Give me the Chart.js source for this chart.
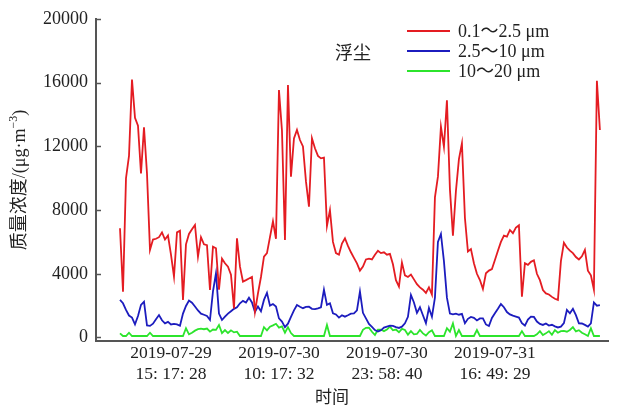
<!DOCTYPE html>
<html>
<head>
<meta charset="utf-8">
<script src="https://cdn.jsdelivr.net/npm/chart.js@4.4.0/dist/chart.umd.min.js"></script>
<style>
  html, body { margin: 0; padding: 0; background: #fff; }
  #wrap { width: 619px; height: 406px; }
</style>
</head>
<body>
<div id="wrap"><canvas id="dustChart" width="619" height="406"></canvas></div>
<script>
// mass concentration, µg/m3, one value per sample
const redValues = [
  6860, 2880, 10000, 11400, 16200, 13800, 13300, 10300, 13200, 10300,
  5500, 6150, 6200, 6300, 6600, 6150, 6400, 5200, 3820, 6600,
  6700, 2360, 5850, 6500, 6800, 7070, 5080, 6300, 5850, 5800,
  2980, 5700, 5600, 3000, 4950, 4660, 4450, 3950, 1830, 6230,
  4450, 3510, 3600, 3700, 3800, 1620, 2770, 3800, 5080, 5300,
  6300, 7300, 6200, 15540, 13000, 6120, 15860, 10100, 12500, 13030,
  12400, 12000, 9800, 8210, 12510, 11880, 11400, 11250, 11300, 7000,
  8000, 6000, 5300, 5200, 5900, 6230, 5750, 5350, 5000, 4660,
  4200, 4450, 4900, 4950, 4900, 5200, 5450, 5300, 5350, 5200,
  5250, 4600, 3600, 3200, 4700, 3900, 3800, 3950, 3650, 3350,
  3150, 3000, 2800, 3150, 2700, 8800, 10100, 13240, 11980, 14900,
  9300, 6400, 9200, 11200, 12190, 7500, 5400, 5550, 4660, 4000,
  3610, 3050, 4030, 4200, 4300, 4870, 5450, 6000, 6400, 6330,
  6750, 6550, 6900, 7050, 2560, 4660, 4560, 4750, 4850, 4000,
  3600, 2980, 2770, 2700, 2550, 2430, 2360, 4800, 5950, 5650,
  5450, 5300, 5050, 4900, 5100, 5500, 4200, 3900, 3000, 16120,
  13030
];
const blueValues = [
  2360, 2150, 1730, 1380, 1250, 830, 1350, 2050, 2250, 760,
  730, 870, 1150, 1410, 1080, 890, 980, 820, 860, 820,
  740, 1500, 1980, 2320, 2180, 1950, 1700, 1500, 1430, 1350,
  1100, 2900, 4030, 1500, 1100, 1310, 1500, 1650, 1800, 1900,
  2150, 2300, 2200, 2500, 2200, 1600, 1950, 1650, 2360, 2800,
  2000, 2100, 1950, 1200, 1000, 650, 870, 1300, 1700, 2040,
  1930, 1840, 1920, 1930, 1800, 1780, 1830, 1900, 3000, 2050,
  2150, 1520, 1450, 1250, 1400, 1310, 1400, 1500, 1520, 1700,
  2880, 1550, 1200, 850, 670, 470, 380, 450, 620, 680,
  740, 730, 650, 600, 680, 890, 1300, 2670, 2200, 1550,
  1900, 1400, 900, 1850, 1300, 2500, 6000, 6500, 4800, 2500,
  1500, 1450, 1500, 1430, 1480, 890, 1170, 1290, 1230, 1070,
  1200, 1200, 820, 720, 1230, 1520, 1800, 2100, 1900, 1600,
  1450, 1370, 1310, 1250, 900, 750, 1130, 1310, 1290, 1000,
  850, 790, 880, 750, 800, 700, 630, 680, 900, 1730,
  1520, 1800, 1400, 890, 880, 790, 690, 890, 2200, 2000,
  2040
];
const greenValues = [
  260, 94, 94, 300, 94, 94, 94, 94, 94, 94,
  300, 94, 94, 94, 94, 94, 94, 94, 94, 94,
  94, 94, 580, 200, 300, 430, 520, 560, 520, 560,
  365, 500, 480, 785, 280, 470, 280, 450, 320, 365,
  94, 94, 94, 94, 94, 94, 94, 94, 650, 450,
  680, 760, 860, 620, 700, 300, 650, 280, 94, 94,
  94, 94, 94, 94, 94, 94, 94, 94, 94, 785,
  94, 94, 94, 94, 94, 94, 94, 94, 94, 94,
  94, 480, 610, 620, 360, 157, 500, 500, 400, 500,
  680, 450, 500, 330, 540, 470, 180, 400, 200, 220,
  470, 260, 120, 330, 450, 94, 94, 94, 94, 580,
  365, 890, 94, 470, 94, 94, 94, 94, 94, 470,
  94, 94, 94, 94, 94, 94, 94, 94, 94, 94,
  94, 94, 94, 94, 400, 94, 94, 94, 94, 200,
  400, 157, 260, 400, 170, 470, 300, 400, 420, 365,
  470, 650, 380, 460, 300, 200, 94, 580, 94, 94,
  94
];

const seriesNames = ["0.1～2.5 μm", "2.5～10 μm", "10～20 μm"];
const seriesColors = ["rgb(228,28,34)", "rgb(28,28,190)", "rgb(44,228,44)"];

// sample index where each time label sits
const tickIndex = [17, 53, 89, 125];
const tickLabels = [
  ["2019-07-29", "15: 17: 28"],
  ["2019-07-30", "10: 17: 32"],
  ["2019-07-30", "23: 58: 40"],
  ["2019-07-31", "16: 49: 29"]
];
const yTicks = [0, 4000, 8000, 12000, 16000, 20000];

const serif = '"Liberation Serif", "Noto Sans CJK SC", serif';
const axisColor = "#555";

const toPoints = arr => arr.map((v, i) => ({ x: i, y: v }));

const overlay = {
  id: "overlay",
  afterDraw(chart) {
    const ctx = chart.ctx;
    const area = chart.chartArea;
    const ys = chart.scales.y;
    ctx.save();

    // inward tick marks on the y axis
    ctx.strokeStyle = axisColor;
    ctx.lineWidth = 1.5;
    yTicks.forEach(v => {
      const y = Math.round(ys.getPixelForValue(v)) + 0.5;
      ctx.beginPath();
      ctx.moveTo(area.left, y);
      ctx.lineTo(area.left + 5, y);
      ctx.stroke();
    });

    // legend
    ctx.font = "18px " + serif;
    ctx.textBaseline = "middle";
    ctx.fillStyle = "#222";
    seriesNames.forEach((name, i) => {
      const y = 31 + i * 20;
      ctx.strokeStyle = seriesColors[i];
      ctx.lineWidth = 1.8;
      ctx.beginPath();
      ctx.moveTo(407, y);
      ctx.lineTo(450, y);
      ctx.stroke();
      ctx.fillText(name, 458, y + 1);
    });
    ctx.font = '18px "Noto Sans CJK SC"';
    ctx.fillText("浮尘", 335, 52);

    // x title
    ctx.font = '17px "Noto Sans CJK SC"';
    ctx.textAlign = "center";
    ctx.fillText("时间", 332, 397);

    // y title with superscript
    ctx.translate(20, 180);
    ctx.rotate(-Math.PI / 2);
    ctx.textAlign = "left";
    const main = "质量浓度/(μg·m";
    ctx.font = "18px " + serif;
    const w1 = ctx.measureText(main).width;
    const w3 = ctx.measureText(")").width;
    ctx.font = "12px " + serif;
    const w2 = ctx.measureText("−3").width;
    let x = -(w1 + w2 + w3) / 2;
    ctx.font = "18px " + serif;
    ctx.fillText(main, x, 0);
    x += w1;
    ctx.font = "12px " + serif;
    ctx.fillText("−3", x, -6);
    x += w2;
    ctx.font = "18px " + serif;
    ctx.fillText(")", x, 0);

    ctx.restore();
  }
};

const ctx = document.getElementById("dustChart").getContext("2d");
new Chart(ctx, {
  type: "line",
  data: {
    datasets: [redValues, blueValues, greenValues].map((vals, i) => ({
      label: seriesNames[i],
      data: toPoints(vals),
      borderColor: seriesColors[i],
      borderWidth: 1.8,
      pointRadius: 0,
      tension: 0,
      fill: false
    }))
  },
  options: {
    responsive: false,
    animation: false,
    devicePixelRatio: 1,
    layout: { padding: { top: 19, right: 11, left: 0, bottom: 0 } },
    plugins: { legend: { display: false }, tooltip: { enabled: false } },
    scales: {
      x: {
        type: "linear",
        min: -8,
        max: 162.7,
        afterFit: s => { s.height = 65; },
        afterBuildTicks: s => { s.ticks = tickIndex.map(v => ({ value: v })); },
        grid: { display: false, drawTicks: false },
        border: { display: true, color: axisColor, width: 2 },
        ticks: {
          autoSkip: false,
          maxRotation: 0,
          padding: 2,
          color: "#222",
          font: { family: serif, size: 17.5 },
          callback: (v, i) => tickLabels[i]
        }
      },
      y: {
        min: -220,
        max: 20000,
        afterFit: s => { s.width = 96; },
        afterBuildTicks: s => { s.ticks = yTicks.map(v => ({ value: v })); },
        grid: { display: false, drawTicks: false },
        border: { display: true, color: axisColor, width: 2 },
        ticks: {
          padding: 8,
          color: "#222",
          font: { family: serif, size: 18 },
          callback: v => String(v)
        }
      }
    }
  },
  plugins: [overlay]
});
</script>
</body>
</html>
